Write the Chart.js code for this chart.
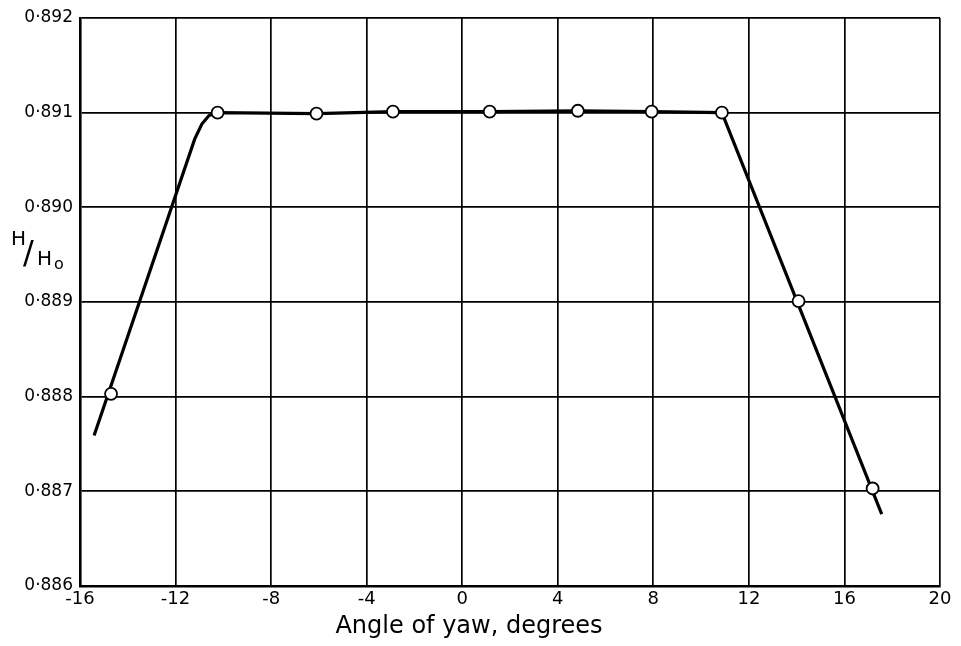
<!DOCTYPE html>
<html>
<head>
<meta charset="utf-8">
<script src="https://cdn.jsdelivr.net/npm/chart.js@4"></script>
<style>
  html, body { margin: 0; padding: 0; background: #fff; }
  #wrap { width: 961px; height: 646px; }
</style>
</head>
<body>
<div id="wrap"><canvas id="c" width="961" height="646"></canvas></div>
<script>
// Measured points (angle of yaw, degrees ; H/H0)
const pointX = [-14.7, -10.24, -6.1, -2.9, 1.15, 4.84, 7.93, 10.87, 14.08, 17.18];
const pointY = [0.88803, 0.89100, 0.89099, 0.89101, 0.89101, 0.89102, 0.89101, 0.89100, 0.88901, 0.88703];

// Hand-drawn fitted curve
const curveX = [-15.41, -11.2, -10.9, -10.6, -10.24, -6.1, -2.9, 1.15, 4.84, 7.93, 10.87, 17.56];
const curveY = [0.88759, 0.89072, 0.89088, 0.89097, 0.89100, 0.89099, 0.89101, 0.89101, 0.89102, 0.89101, 0.89100, 0.88676];

// Axes
const xMin = -16, xMax = 20, xStep = 4;
const yMin = 0.886, yMax = 0.892, yStep = 0.001;
const xTitle = 'Angle of yaw, degrees';

const FONT = '"DejaVu Sans", sans-serif';

const toXY = (xs, ys) => xs.map((x, i) => ({ x: x, y: ys[i] }));

const labelPlugin = {
  id: 'axisLabels',
  afterDraw(chart) {
    const ctx = chart.ctx;
    ctx.save();
    ctx.fillStyle = '#000';
    ctx.textBaseline = 'alphabetic';
    // y-axis label H/Ho
    ctx.font = '20px ' + FONT;
    ctx.fillText('H', 11, 245);
    ctx.font = '32px ' + FONT;
    ctx.fillText('/', 23, 263);
    ctx.font = '20px ' + FONT;
    ctx.fillText('H', 37, 265);
    ctx.font = '16px ' + FONT;
    ctx.fillText('o', 54, 269);
    // x-axis title
    ctx.font = '24px ' + FONT;
    ctx.textAlign = 'center';
    ctx.textBaseline = 'middle';
    ctx.fillText(xTitle, 469, 627);
    ctx.restore();
  }
};

new Chart(document.getElementById('c'), {
  type: 'scatter',
  data: {
    datasets: [
      {
        label: 'curve',
        data: toXY(curveX, curveY),
        showLine: true,
        borderColor: '#000',
        borderWidth: 3.2,
        pointRadius: 0,
        tension: 0,
        order: 2
      },
      {
        label: 'H/Ho',
        data: toXY(pointX, pointY),
        showLine: false,
        pointRadius: 6,
        pointBackgroundColor: '#fff',
        pointBorderColor: '#000',
        pointBorderWidth: 1.8,
        order: 1
      }
    ]
  },
  plugins: [labelPlugin],
  options: {
    responsive: false,
    animation: false,
    events: [],
    layout: { padding: { top: 18, right: 21, left: 0, bottom: 0 } },
    plugins: { legend: { display: false }, tooltip: { enabled: false } },
    scales: {
      x: {
        type: 'linear',
        min: xMin, max: xMax,
        afterFit(s) { s.height = 60; },
        ticks: {
          stepSize: xStep,
          color: '#000',
          font: { family: FONT, size: 18 },
          padding: 3
        },
        grid: { color: '#000', lineWidth: 1.7, drawTicks: false },
        border: { color: '#000', width: 2.6 },
        title: { display: false }
      },
      y: {
        type: 'linear',
        min: yMin, max: yMax,
        afterFit(s) { s.width = 80; },
        ticks: {
          stepSize: yStep,
          color: '#000',
          font: { family: FONT, size: 17 },
          padding: 7,
          callback: (v) => v.toFixed(3).replace('.', '\u00B7')
        },
        grid: { color: '#000', lineWidth: 1.7, drawTicks: false },
        border: { color: '#000', width: 2.6 }
      }
    }
  }
});
</script>
</body>
</html>
